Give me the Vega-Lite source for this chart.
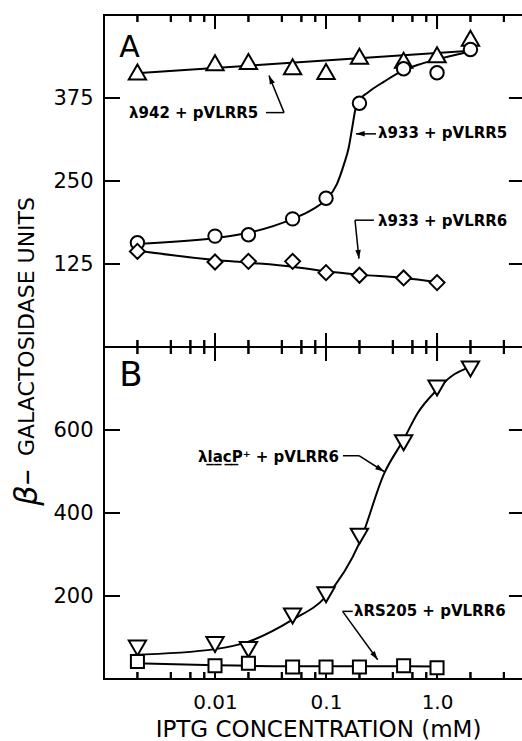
{
  "$schema": "https://vega.github.io/schema/vega-lite/v6.json",
  "background": "white",
  "padding": {"left": 9, "top": 13, "right": 0, "bottom": 0},
  "spacing": 0,
  "bounds": "flush",
  "datasets": {
    "xticks": [
      {"x": 0.002, "kind": "minor"}, {"x": 0.004, "kind": "minor"}, {"x": 0.006, "kind": "minor"}, {"x": 0.008, "kind": "minor"},
      {"x": 0.01, "kind": "major"},
      {"x": 0.02, "kind": "minor"}, {"x": 0.04, "kind": "minor"}, {"x": 0.06, "kind": "minor"}, {"x": 0.08, "kind": "minor"},
      {"x": 0.1, "kind": "major"},
      {"x": 0.2, "kind": "minor"}, {"x": 0.4, "kind": "minor"}, {"x": 0.6, "kind": "minor"}, {"x": 0.8, "kind": "minor"},
      {"x": 1.0, "kind": "major"},
      {"x": 2.0, "kind": "minor"}, {"x": 4.0, "kind": "minor"}
    ],
    "yticksA": [{"y": 125}, {"y": 250}, {"y": 375}],
    "yticksB": [{"y": 200}, {"y": 400}, {"y": 600}],
    "pointsA": [
      {"x": 0.002, "y": 414, "series": "λ942 + pVLRR5"},
      {"x": 0.01, "y": 428, "series": "λ942 + pVLRR5"},
      {"x": 0.02, "y": 430, "series": "λ942 + pVLRR5"},
      {"x": 0.05, "y": 422, "series": "λ942 + pVLRR5"},
      {"x": 0.1, "y": 415, "series": "λ942 + pVLRR5"},
      {"x": 0.2, "y": 438, "series": "λ942 + pVLRR5"},
      {"x": 0.5, "y": 432, "series": "λ942 + pVLRR5"},
      {"x": 1.0, "y": 440, "series": "λ942 + pVLRR5"},
      {"x": 2.0, "y": 465, "series": "λ942 + pVLRR5"},
      {"x": 0.002, "y": 157, "series": "λ933 + pVLRR5"},
      {"x": 0.01, "y": 167, "series": "λ933 + pVLRR5"},
      {"x": 0.02, "y": 169, "series": "λ933 + pVLRR5"},
      {"x": 0.05, "y": 193, "series": "λ933 + pVLRR5"},
      {"x": 0.1, "y": 224, "series": "λ933 + pVLRR5"},
      {"x": 0.2, "y": 367, "series": "λ933 + pVLRR5"},
      {"x": 0.5, "y": 419, "series": "λ933 + pVLRR5"},
      {"x": 1.0, "y": 413, "series": "λ933 + pVLRR5"},
      {"x": 2.0, "y": 448, "series": "λ933 + pVLRR5"},
      {"x": 0.002, "y": 144, "series": "λ933 + pVLRR6"},
      {"x": 0.01, "y": 128, "series": "λ933 + pVLRR6"},
      {"x": 0.02, "y": 129, "series": "λ933 + pVLRR6"},
      {"x": 0.05, "y": 129, "series": "λ933 + pVLRR6"},
      {"x": 0.1, "y": 112, "series": "λ933 + pVLRR6"},
      {"x": 0.2, "y": 108, "series": "λ933 + pVLRR6"},
      {"x": 0.5, "y": 104, "series": "λ933 + pVLRR6"},
      {"x": 1.0, "y": 97, "series": "λ933 + pVLRR6"}
    ],
    "curvesA": [
      {"x": 0.0018, "y": 412, "series": "λ942 + pVLRR5"},
      {"x": 2.0, "y": 446, "series": "λ942 + pVLRR5"},
      {"x": 0.0018, "y": 155, "series": "λ933 + pVLRR5"},
      {"x": 0.01, "y": 164, "series": "λ933 + pVLRR5"},
      {"x": 0.02, "y": 172, "series": "λ933 + pVLRR5"},
      {"x": 0.05, "y": 193, "series": "λ933 + pVLRR5"},
      {"x": 0.075, "y": 207, "series": "λ933 + pVLRR5"},
      {"x": 0.1, "y": 222, "series": "λ933 + pVLRR5"},
      {"x": 0.125, "y": 245, "series": "λ933 + pVLRR5"},
      {"x": 0.145, "y": 275, "series": "λ933 + pVLRR5"},
      {"x": 0.16, "y": 300, "series": "λ933 + pVLRR5"},
      {"x": 0.172, "y": 330, "series": "λ933 + pVLRR5"},
      {"x": 0.185, "y": 360, "series": "λ933 + pVLRR5"},
      {"x": 0.2, "y": 372, "series": "λ933 + pVLRR5"},
      {"x": 0.237, "y": 383, "series": "λ933 + pVLRR5"},
      {"x": 0.336, "y": 400, "series": "λ933 + pVLRR5"},
      {"x": 0.478, "y": 415, "series": "λ933 + pVLRR5"},
      {"x": 0.675, "y": 425, "series": "λ933 + pVLRR5"},
      {"x": 0.946, "y": 432, "series": "λ933 + pVLRR5"},
      {"x": 2.0, "y": 445, "series": "λ933 + pVLRR5"},
      {"x": 0.0018, "y": 146, "series": "λ933 + pVLRR6"},
      {"x": 0.01, "y": 131, "series": "λ933 + pVLRR6"},
      {"x": 0.02, "y": 127, "series": "λ933 + pVLRR6"},
      {"x": 0.05, "y": 121, "series": "λ933 + pVLRR6"},
      {"x": 0.1, "y": 114, "series": "λ933 + pVLRR6"},
      {"x": 0.2, "y": 109, "series": "λ933 + pVLRR6"},
      {"x": 0.5, "y": 104, "series": "λ933 + pVLRR6"},
      {"x": 1.0, "y": 98, "series": "λ933 + pVLRR6"}
    ],
    "labelsA": [
      {"x": 0.00168, "y": 352, "text": "λ942 + pVLRR5"},
      {"x": 0.294, "y": 322, "text": "λ933 + pVLRR5"},
      {"x": 0.294, "y": 190, "text": "λ933 + pVLRR6"}
    ],
    "arrowsA": [
      {"x": 0.0288, "y": 353, "x2": 0.0419, "y2": 353},
      {"x": 0.0419, "y": 353, "x2": 0.0306, "y2": 409},
      {"x": 0.282, "y": 321, "x2": 0.186, "y2": 321},
      {"x": 0.27, "y": 191, "x2": 0.1824, "y2": 191},
      {"x": 0.1824, "y": 191, "x2": 0.198, "y2": 133}
    ],
    "headsA": [
      {"x": 0.0306, "y": 409, "angle": -23},
      {"x": 0.186, "y": 321, "angle": -90},
      {"x": 0.198, "y": 133, "angle": 174}
    ],
    "letterA": [{"x": 0.00137, "y": 450, "text": "A"}],
    "pointsB": [
      {"x": 0.002, "y": 75, "series": "λlacP+ + pVLRR6"},
      {"x": 0.01, "y": 83, "series": "λlacP+ + pVLRR6"},
      {"x": 0.02, "y": 71, "series": "λlacP+ + pVLRR6"},
      {"x": 0.05, "y": 152, "series": "λlacP+ + pVLRR6"},
      {"x": 0.1, "y": 203, "series": "λlacP+ + pVLRR6"},
      {"x": 0.2, "y": 344, "series": "λlacP+ + pVLRR6"},
      {"x": 0.5, "y": 569, "series": "λlacP+ + pVLRR6"},
      {"x": 1.0, "y": 701, "series": "λlacP+ + pVLRR6"},
      {"x": 2.0, "y": 747, "series": "λlacP+ + pVLRR6"},
      {"x": 0.002, "y": 42, "series": "λRS205 + pVLRR6"},
      {"x": 0.01, "y": 32, "series": "λRS205 + pVLRR6"},
      {"x": 0.02, "y": 38, "series": "λRS205 + pVLRR6"},
      {"x": 0.05, "y": 29, "series": "λRS205 + pVLRR6"},
      {"x": 0.1, "y": 29, "series": "λRS205 + pVLRR6"},
      {"x": 0.2, "y": 29, "series": "λRS205 + pVLRR6"},
      {"x": 0.5, "y": 32, "series": "λRS205 + pVLRR6"},
      {"x": 1.0, "y": 27, "series": "λRS205 + pVLRR6"}
    ],
    "curvesB": [
      {"x": 0.0018, "y": 58, "series": "λlacP+ + pVLRR6"},
      {"x": 0.01, "y": 72, "series": "λlacP+ + pVLRR6"},
      {"x": 0.02, "y": 90, "series": "λlacP+ + pVLRR6"},
      {"x": 0.05, "y": 143, "series": "λlacP+ + pVLRR6"},
      {"x": 0.1, "y": 199, "series": "λlacP+ + pVLRR6"},
      {"x": 0.2, "y": 328, "series": "λlacP+ + pVLRR6"},
      {"x": 0.335, "y": 496, "series": "λlacP+ + pVLRR6"},
      {"x": 0.5, "y": 577, "series": "λlacP+ + pVLRR6"},
      {"x": 0.67, "y": 641, "series": "λlacP+ + pVLRR6"},
      {"x": 1.0, "y": 697, "series": "λlacP+ + pVLRR6"},
      {"x": 1.34, "y": 729, "series": "λlacP+ + pVLRR6"},
      {"x": 2.0, "y": 752, "series": "λlacP+ + pVLRR6"},
      {"x": 0.002, "y": 38, "series": "λRS205 + pVLRR6"},
      {"x": 0.01, "y": 33, "series": "λRS205 + pVLRR6"},
      {"x": 0.05, "y": 31, "series": "λRS205 + pVLRR6"},
      {"x": 0.2, "y": 31, "series": "λRS205 + pVLRR6"},
      {"x": 1.0, "y": 30, "series": "λRS205 + pVLRR6"}
    ],
    "labelsB": [
      {"x": 0.00703, "y": 536, "text": "λl̲a̲c̲P̲⁺ + pVLRR6"},
      {"x": 0.1786, "y": 163, "text": "λRS205 + pVLRR6"}
    ],
    "arrowsB": [
      {"x": 0.142, "y": 538, "x2": 0.198, "y2": 538},
      {"x": 0.198, "y": 538, "x2": 0.333, "y2": 500},
      {"x": 0.174, "y": 163, "x2": 0.141, "y2": 163},
      {"x": 0.141, "y": 163, "x2": 0.292, "y2": 46.5}
    ],
    "headsB": [
      {"x": 0.333, "y": 500, "angle": 122},
      {"x": 0.292, "y": 46.5, "angle": 144}
    ],
    "letterB": [{"x": 0.00137, "y": 729, "text": "B"}]
  },
  "vconcat": [
    {
      "width": 421,
      "height": 332,
      "resolve": {"axis": {"x": "independent", "y": "independent"}},
      "layer": [
        {
          "data": {"name": "xticks"},
          "transform": [{"filter": "datum.kind === 'major'"}],
          "mark": {"type": "rule", "color": "black", "strokeWidth": 2},
          "encoding": {
            "x": {"field": "x", "type": "quantitative", "scale": {"type": "log", "domain": [0.001, 6.2], "nice": false}, "axis": null},
            "y": {"datum": 0, "type": "quantitative", "scale": {"domain": [0, 500], "nice": false, "zero": false},
                  "axis": {"orient": "left", "values": [125, 250, 375], "labelPadding": 11, "labelFontSize": 21,
                           "title": "GALACTOSIDASE UNITS", "titleX": -78, "titleY": 311, "titleBaseline": "middle", "titleFontSize": 22}},
            "y2": {"datum": 21.1}
          }
        },
        {
          "data": {"name": "xticks"},
          "transform": [{"filter": "datum.kind === 'minor'"}],
          "mark": {"type": "rule", "color": "black", "strokeWidth": 2},
          "encoding": {
            "x": {"field": "x", "type": "quantitative", "scale": {"type": "log", "domain": [0.001, 6.2], "nice": false}, "axis": null},
            "y": {"datum": 0, "type": "quantitative", "scale": {"domain": [0, 500], "nice": false, "zero": false}, "axis": null},
            "y2": {"datum": 10.5}
          }
        },
        {
          "data": {"name": "xticks"},
          "transform": [{"filter": "datum.kind === 'major'"}],
          "mark": {"type": "rule", "color": "black", "strokeWidth": 2},
          "encoding": {
            "x": {"field": "x", "type": "quantitative", "scale": {"type": "log", "domain": [0.001, 6.2], "nice": false}, "axis": null},
            "y": {"datum": 500, "type": "quantitative", "scale": {"domain": [0, 500], "nice": false, "zero": false}, "axis": null},
            "y2": {"datum": 478.9}
          }
        },
        {
          "data": {"name": "xticks"},
          "transform": [{"filter": "datum.kind === 'minor'"}],
          "mark": {"type": "rule", "color": "black", "strokeWidth": 2},
          "encoding": {
            "x": {"field": "x", "type": "quantitative", "scale": {"type": "log", "domain": [0.001, 6.2], "nice": false}, "axis": null},
            "y": {"datum": 500, "type": "quantitative", "scale": {"domain": [0, 500], "nice": false, "zero": false}, "axis": null},
            "y2": {"datum": 489.5}
          }
        },
        {
          "data": {"name": "yticksA"},
          "mark": {"type": "rule", "color": "black", "strokeWidth": 2},
          "encoding": {
            "x": {"datum": 0.001, "type": "quantitative", "scale": {"type": "log", "domain": [0.001, 6.2], "nice": false}, "axis": null},
            "x2": {"datum": 0.001394},
            "y": {"field": "y", "type": "quantitative", "scale": {"domain": [0, 500], "nice": false, "zero": false}, "axis": null}
          }
        },
        {
          "data": {"name": "yticksA"},
          "mark": {"type": "rule", "color": "black", "strokeWidth": 2},
          "encoding": {
            "x": {"datum": 6.2, "type": "quantitative", "scale": {"type": "log", "domain": [0.001, 6.2], "nice": false}, "axis": null},
            "x2": {"datum": 4.447},
            "y": {"field": "y", "type": "quantitative", "scale": {"domain": [0, 500], "nice": false, "zero": false}, "axis": null}
          }
        },
        {
          "data": {"name": "xticks"},
          "transform": [{"filter": "datum.kind === 'major'"}],
          "mark": {"type": "tick", "color": "black", "thickness": 2, "size": 14, "orient": "vertical", "opacity": 1},
          "encoding": {
            "x": {"field": "x", "type": "quantitative", "scale": {"type": "log", "domain": [0.001, 6.2], "nice": false}, "axis": null},
            "y": {"datum": 10.55, "type": "quantitative", "scale": {"domain": [0, 500], "nice": false, "zero": false}, "axis": null}
          }
        },
        {
          "data": {"name": "xticks"},
          "transform": [{"filter": "datum.kind === 'minor'"}],
          "mark": {"type": "tick", "color": "black", "thickness": 2, "size": 7, "orient": "vertical", "opacity": 1},
          "encoding": {
            "x": {"field": "x", "type": "quantitative", "scale": {"type": "log", "domain": [0.001, 6.2], "nice": false}, "axis": null},
            "y": {"datum": 5.25, "type": "quantitative", "scale": {"domain": [0, 500], "nice": false, "zero": false}, "axis": null}
          }
        },
        {
          "data": {"name": "xticks"},
          "transform": [{"filter": "datum.kind === 'major'"}],
          "mark": {"type": "tick", "color": "black", "thickness": 2, "size": 14, "orient": "vertical", "opacity": 1},
          "encoding": {
            "x": {"field": "x", "type": "quantitative", "scale": {"type": "log", "domain": [0.001, 6.2], "nice": false}, "axis": null},
            "y": {"datum": 489.45, "type": "quantitative", "scale": {"domain": [0, 500], "nice": false, "zero": false}, "axis": null}
          }
        },
        {
          "data": {"name": "xticks"},
          "transform": [{"filter": "datum.kind === 'minor'"}],
          "mark": {"type": "tick", "color": "black", "thickness": 2, "size": 7, "orient": "vertical", "opacity": 1},
          "encoding": {
            "x": {"field": "x", "type": "quantitative", "scale": {"type": "log", "domain": [0.001, 6.2], "nice": false}, "axis": null},
            "y": {"datum": 494.75, "type": "quantitative", "scale": {"domain": [0, 500], "nice": false, "zero": false}, "axis": null}
          }
        },
        {
          "data": {"name": "yticksA"},
          "mark": {"type": "tick", "color": "black", "thickness": 2, "size": 16, "orient": "horizontal", "opacity": 1},
          "encoding": {
            "x": {"datum": 0.00118, "type": "quantitative", "scale": {"type": "log", "domain": [0.001, 6.2], "nice": false}, "axis": null},
            "y": {"field": "y", "type": "quantitative", "scale": {"domain": [0, 500], "nice": false, "zero": false}, "axis": null}
          }
        },
        {
          "data": {"name": "yticksA"},
          "mark": {"type": "tick", "color": "black", "thickness": 2, "size": 16, "orient": "horizontal", "opacity": 1},
          "encoding": {
            "x": {"datum": 5.25, "type": "quantitative", "scale": {"type": "log", "domain": [0.001, 6.2], "nice": false}, "axis": null},
            "y": {"field": "y", "type": "quantitative", "scale": {"domain": [0, 500], "nice": false, "zero": false}, "axis": null}
          }
        },
        {
          "data": {"name": "curvesA"},
          "mark": {"type": "line", "color": "black", "strokeWidth": 2, "interpolate": "monotone"},
          "encoding": {
            "x": {"field": "x", "type": "quantitative", "scale": {"type": "log", "domain": [0.001, 6.2], "nice": false}, "axis": null},
            "y": {"field": "y", "type": "quantitative", "scale": {"domain": [0, 500], "nice": false, "zero": false}, "axis": null},
            "detail": {"field": "series"}
          }
        },
        {
          "data": {"name": "pointsA"},
          "transform": [{"filter": "datum.series === 'λ942 + pVLRR5'"}],
          "mark": {"type": "point", "shape": "triangle-up", "size": 300, "filled": true, "fill": "white", "stroke": "black", "strokeWidth": 2, "opacity": 1},
          "encoding": {
            "x": {"field": "x", "type": "quantitative", "scale": {"type": "log", "domain": [0.001, 6.2], "nice": false}, "axis": null},
            "y": {"field": "y", "type": "quantitative", "scale": {"domain": [0, 500], "nice": false, "zero": false}, "axis": null}
          }
        },
        {
          "data": {"name": "pointsA"},
          "transform": [{"filter": "datum.series === 'λ933 + pVLRR5'"}],
          "mark": {"type": "point", "shape": "circle", "size": 180, "filled": true, "fill": "white", "stroke": "black", "strokeWidth": 2, "opacity": 1},
          "encoding": {
            "x": {"field": "x", "type": "quantitative", "scale": {"type": "log", "domain": [0.001, 6.2], "nice": false}, "axis": null},
            "y": {"field": "y", "type": "quantitative", "scale": {"domain": [0, 500], "nice": false, "zero": false}, "axis": null}
          }
        },
        {
          "data": {"name": "pointsA"},
          "transform": [{"filter": "datum.series === 'λ933 + pVLRR6'"}],
          "mark": {"type": "point", "shape": "diamond", "size": 225, "filled": true, "fill": "white", "stroke": "black", "strokeWidth": 2, "opacity": 1},
          "encoding": {
            "x": {"field": "x", "type": "quantitative", "scale": {"type": "log", "domain": [0.001, 6.2], "nice": false}, "axis": null},
            "y": {"field": "y", "type": "quantitative", "scale": {"domain": [0, 500], "nice": false, "zero": false}, "axis": null}
          }
        },
        {
          "data": {"name": "labelsA"},
          "mark": {"type": "text", "align": "left", "baseline": "middle", "font": "DejaVu Sans", "fontSize": 15, "fontWeight": "bold", "color": "black"},
          "encoding": {
            "x": {"field": "x", "type": "quantitative", "scale": {"type": "log", "domain": [0.001, 6.2], "nice": false}, "axis": null},
            "y": {"field": "y", "type": "quantitative", "scale": {"domain": [0, 500], "nice": false, "zero": false}, "axis": null},
            "text": {"field": "text"}
          }
        },
        {
          "data": {"name": "arrowsA"},
          "mark": {"type": "rule", "color": "black", "strokeWidth": 1.5},
          "encoding": {
            "x": {"field": "x", "type": "quantitative", "scale": {"type": "log", "domain": [0.001, 6.2], "nice": false}, "axis": null},
            "x2": {"field": "x2"},
            "y": {"field": "y", "type": "quantitative", "scale": {"domain": [0, 500], "nice": false, "zero": false}, "axis": null},
            "y2": {"field": "y2"}
          }
        },
        {
          "data": {"name": "headsA"},
          "mark": {"type": "point", "shape": "M0,0L0.5,1.6L-0.5,1.6Z", "size": 120, "filled": true, "color": "black", "opacity": 1},
          "encoding": {
            "x": {"field": "x", "type": "quantitative", "scale": {"type": "log", "domain": [0.001, 6.2], "nice": false}, "axis": null},
            "y": {"field": "y", "type": "quantitative", "scale": {"domain": [0, 500], "nice": false, "zero": false}, "axis": null},
            "angle": {"field": "angle", "type": "quantitative", "scale": null}
          }
        },
        {
          "data": {"name": "letterA"},
          "mark": {"type": "text", "align": "left", "baseline": "middle", "font": "DejaVu Sans", "fontSize": 30, "color": "black"},
          "encoding": {
            "x": {"field": "x", "type": "quantitative", "scale": {"type": "log", "domain": [0.001, 6.2], "nice": false}, "axis": null},
            "y": {"field": "y", "type": "quantitative", "scale": {"domain": [0, 500], "nice": false, "zero": false}, "axis": null},
            "text": {"field": "text"}
          }
        }
      ]
    },
    {
      "width": 421,
      "height": 332,
      "resolve": {"axis": {"x": "independent", "y": "independent"}},
      "layer": [
        {
          "data": {"name": "xticks"},
          "transform": [{"filter": "datum.kind === 'major'"}],
          "mark": {"type": "rule", "color": "black", "strokeWidth": 2},
          "encoding": {
            "x": {"field": "x", "type": "quantitative", "scale": {"type": "log", "domain": [0.001, 6.2], "nice": false},
                  "axis": {"orient": "bottom", "values": [0.01, 0.1, 1], "labelPadding": 13,
                           "labelExpr": "datum.value >= 1 ? '1.0' : datum.value >= 0.1 ? '0.1' : '0.01'",
                           "title": "IPTG CONCENTRATION (mM)", "titleFontSize": 23, "titleX": 214, "titleY": 50, "titleBaseline": "middle"}},
            "y": {"datum": 0, "type": "quantitative", "scale": {"domain": [0, 800], "nice": false, "zero": false},
                  "axis": {"orient": "left", "values": [200, 400, 600], "labelPadding": 11, "labelFontSize": 21,
                           "title": "β–", "titleX": -78, "titleY": 140, "titleBaseline": "middle", "titleFontSize": 32, "titleFontStyle": "italic"}},
            "y2": {"datum": 33.7}
          }
        },
        {
          "data": {"name": "xticks"},
          "transform": [{"filter": "datum.kind === 'minor'"}],
          "mark": {"type": "rule", "color": "black", "strokeWidth": 2},
          "encoding": {
            "x": {"field": "x", "type": "quantitative", "scale": {"type": "log", "domain": [0.001, 6.2], "nice": false}, "axis": null},
            "y": {"datum": 0, "type": "quantitative", "scale": {"domain": [0, 800], "nice": false, "zero": false}, "axis": null},
            "y2": {"datum": 16.9}
          }
        },
        {
          "data": {"name": "xticks"},
          "transform": [{"filter": "datum.kind === 'major'"}],
          "mark": {"type": "rule", "color": "black", "strokeWidth": 2},
          "encoding": {
            "x": {"field": "x", "type": "quantitative", "scale": {"type": "log", "domain": [0.001, 6.2], "nice": false}, "axis": null},
            "y": {"datum": 800, "type": "quantitative", "scale": {"domain": [0, 800], "nice": false, "zero": false}, "axis": null},
            "y2": {"datum": 766.3}
          }
        },
        {
          "data": {"name": "xticks"},
          "transform": [{"filter": "datum.kind === 'minor'"}],
          "mark": {"type": "rule", "color": "black", "strokeWidth": 2},
          "encoding": {
            "x": {"field": "x", "type": "quantitative", "scale": {"type": "log", "domain": [0.001, 6.2], "nice": false}, "axis": null},
            "y": {"datum": 800, "type": "quantitative", "scale": {"domain": [0, 800], "nice": false, "zero": false}, "axis": null},
            "y2": {"datum": 783.1}
          }
        },
        {
          "data": {"name": "yticksB"},
          "mark": {"type": "rule", "color": "black", "strokeWidth": 2},
          "encoding": {
            "x": {"datum": 0.001, "type": "quantitative", "scale": {"type": "log", "domain": [0.001, 6.2], "nice": false}, "axis": null},
            "x2": {"datum": 0.001394},
            "y": {"field": "y", "type": "quantitative", "scale": {"domain": [0, 800], "nice": false, "zero": false}, "axis": null}
          }
        },
        {
          "data": {"name": "yticksB"},
          "mark": {"type": "rule", "color": "black", "strokeWidth": 2},
          "encoding": {
            "x": {"datum": 6.2, "type": "quantitative", "scale": {"type": "log", "domain": [0.001, 6.2], "nice": false}, "axis": null},
            "x2": {"datum": 4.447},
            "y": {"field": "y", "type": "quantitative", "scale": {"domain": [0, 800], "nice": false, "zero": false}, "axis": null}
          }
        },
        {
          "data": {"name": "xticks"},
          "transform": [{"filter": "datum.kind === 'major'"}],
          "mark": {"type": "tick", "color": "black", "thickness": 2, "size": 14, "orient": "vertical", "opacity": 1},
          "encoding": {
            "x": {"field": "x", "type": "quantitative", "scale": {"type": "log", "domain": [0.001, 6.2], "nice": false}, "axis": null},
            "y": {"datum": 16.85, "type": "quantitative", "scale": {"domain": [0, 800], "nice": false, "zero": false}, "axis": null}
          }
        },
        {
          "data": {"name": "xticks"},
          "transform": [{"filter": "datum.kind === 'minor'"}],
          "mark": {"type": "tick", "color": "black", "thickness": 2, "size": 7, "orient": "vertical", "opacity": 1},
          "encoding": {
            "x": {"field": "x", "type": "quantitative", "scale": {"type": "log", "domain": [0.001, 6.2], "nice": false}, "axis": null},
            "y": {"datum": 8.45, "type": "quantitative", "scale": {"domain": [0, 800], "nice": false, "zero": false}, "axis": null}
          }
        },
        {
          "data": {"name": "xticks"},
          "transform": [{"filter": "datum.kind === 'major'"}],
          "mark": {"type": "tick", "color": "black", "thickness": 2, "size": 14, "orient": "vertical", "opacity": 1},
          "encoding": {
            "x": {"field": "x", "type": "quantitative", "scale": {"type": "log", "domain": [0.001, 6.2], "nice": false}, "axis": null},
            "y": {"datum": 783.15, "type": "quantitative", "scale": {"domain": [0, 800], "nice": false, "zero": false}, "axis": null}
          }
        },
        {
          "data": {"name": "xticks"},
          "transform": [{"filter": "datum.kind === 'minor'"}],
          "mark": {"type": "tick", "color": "black", "thickness": 2, "size": 7, "orient": "vertical", "opacity": 1},
          "encoding": {
            "x": {"field": "x", "type": "quantitative", "scale": {"type": "log", "domain": [0.001, 6.2], "nice": false}, "axis": null},
            "y": {"datum": 791.55, "type": "quantitative", "scale": {"domain": [0, 800], "nice": false, "zero": false}, "axis": null}
          }
        },
        {
          "data": {"name": "yticksB"},
          "mark": {"type": "tick", "color": "black", "thickness": 2, "size": 16, "orient": "horizontal", "opacity": 1},
          "encoding": {
            "x": {"datum": 0.00118, "type": "quantitative", "scale": {"type": "log", "domain": [0.001, 6.2], "nice": false}, "axis": null},
            "y": {"field": "y", "type": "quantitative", "scale": {"domain": [0, 800], "nice": false, "zero": false}, "axis": null}
          }
        },
        {
          "data": {"name": "yticksB"},
          "mark": {"type": "tick", "color": "black", "thickness": 2, "size": 16, "orient": "horizontal", "opacity": 1},
          "encoding": {
            "x": {"datum": 5.25, "type": "quantitative", "scale": {"type": "log", "domain": [0.001, 6.2], "nice": false}, "axis": null},
            "y": {"field": "y", "type": "quantitative", "scale": {"domain": [0, 800], "nice": false, "zero": false}, "axis": null}
          }
        },
        {
          "data": {"name": "curvesB"},
          "mark": {"type": "line", "color": "black", "strokeWidth": 2, "interpolate": "monotone"},
          "encoding": {
            "x": {"field": "x", "type": "quantitative", "scale": {"type": "log", "domain": [0.001, 6.2], "nice": false}, "axis": null},
            "y": {"field": "y", "type": "quantitative", "scale": {"domain": [0, 800], "nice": false, "zero": false}, "axis": null},
            "detail": {"field": "series"}
          }
        },
        {
          "data": {"name": "pointsB"},
          "transform": [{"filter": "datum.series === 'λlacP+ + pVLRR6'"}],
          "mark": {"type": "point", "shape": "triangle-down", "size": 300, "filled": true, "fill": "white", "stroke": "black", "strokeWidth": 2, "opacity": 1},
          "encoding": {
            "x": {"field": "x", "type": "quantitative", "scale": {"type": "log", "domain": [0.001, 6.2], "nice": false}, "axis": null},
            "y": {"field": "y", "type": "quantitative", "scale": {"domain": [0, 800], "nice": false, "zero": false}, "axis": null}
          }
        },
        {
          "data": {"name": "pointsB"},
          "transform": [{"filter": "datum.series === 'λRS205 + pVLRR6'"}],
          "mark": {"type": "point", "shape": "square", "size": 170, "filled": true, "fill": "white", "stroke": "black", "strokeWidth": 2, "opacity": 1},
          "encoding": {
            "x": {"field": "x", "type": "quantitative", "scale": {"type": "log", "domain": [0.001, 6.2], "nice": false}, "axis": null},
            "y": {"field": "y", "type": "quantitative", "scale": {"domain": [0, 800], "nice": false, "zero": false}, "axis": null}
          }
        },
        {
          "data": {"name": "labelsB"},
          "mark": {"type": "text", "align": "left", "baseline": "middle", "font": "DejaVu Sans", "fontSize": 15, "fontWeight": "bold", "color": "black"},
          "encoding": {
            "x": {"field": "x", "type": "quantitative", "scale": {"type": "log", "domain": [0.001, 6.2], "nice": false}, "axis": null},
            "y": {"field": "y", "type": "quantitative", "scale": {"domain": [0, 800], "nice": false, "zero": false}, "axis": null},
            "text": {"field": "text"}
          }
        },
        {
          "data": {"name": "arrowsB"},
          "mark": {"type": "rule", "color": "black", "strokeWidth": 1.5},
          "encoding": {
            "x": {"field": "x", "type": "quantitative", "scale": {"type": "log", "domain": [0.001, 6.2], "nice": false}, "axis": null},
            "x2": {"field": "x2"},
            "y": {"field": "y", "type": "quantitative", "scale": {"domain": [0, 800], "nice": false, "zero": false}, "axis": null},
            "y2": {"field": "y2"}
          }
        },
        {
          "data": {"name": "headsB"},
          "mark": {"type": "point", "shape": "M0,0L0.5,1.6L-0.5,1.6Z", "size": 120, "filled": true, "color": "black", "opacity": 1},
          "encoding": {
            "x": {"field": "x", "type": "quantitative", "scale": {"type": "log", "domain": [0.001, 6.2], "nice": false}, "axis": null},
            "y": {"field": "y", "type": "quantitative", "scale": {"domain": [0, 800], "nice": false, "zero": false}, "axis": null},
            "angle": {"field": "angle", "type": "quantitative", "scale": null}
          }
        },
        {
          "data": {"name": "letterB"},
          "mark": {"type": "text", "align": "left", "baseline": "middle", "font": "DejaVu Sans", "fontSize": 34, "color": "black"},
          "encoding": {
            "x": {"field": "x", "type": "quantitative", "scale": {"type": "log", "domain": [0.001, 6.2], "nice": false}, "axis": null},
            "y": {"field": "y", "type": "quantitative", "scale": {"domain": [0, 800], "nice": false, "zero": false}, "axis": null},
            "text": {"field": "text"}
          }
        }
      ]
    }
  ],
  "config": {
    "view": {"stroke": "black", "strokeWidth": 2},
    "axis": {"domain": false, "grid": false, "ticks": false, "labelColor": "black",
             "labelFont": "DejaVu Sans", "labelFontSize": 20, "titleFont": "DejaVu Sans", "titleColor": "black", "titleFontWeight": "normal"}
  }
}
